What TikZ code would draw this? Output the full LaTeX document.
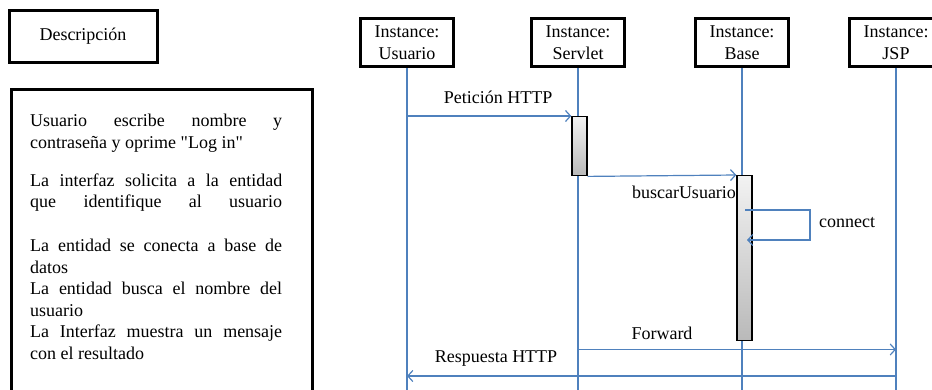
\documentclass[tikz,border=0pt]{standalone}
\usepackage{fontspec}
\setmainfont{Liberation Serif}[Ligatures=TeXOff]
\usetikzlibrary{arrows.meta}
\definecolor{lifeblue}{RGB}{79,129,189}

\begin{document}
\begin{tikzpicture}[x=1pt,y=-1pt]
  \tikzstyle{every node}=[font=\fontsize{18}{21.5}\selectfont, inner sep=0pt]
  \tikzstyle{thickbox}=[draw, line width=3pt, fill=white]
  \tikzstyle{instance}=[thickbox, minimum width=93pt, minimum height=48pt, align=center, anchor=north]
  \tikzstyle{life}=[draw=lifeblue, line width=1.2pt]
  \tikzstyle{msg}=[lifeblue, line width=1.2pt, -{Straight Barb[length=5pt,width=11pt]}]
  \tikzstyle{act}=[draw, line width=1.4pt, top color=gray!10, bottom color=gray!55, minimum width=15pt, anchor=north]
  \useasboundingbox (0,0) rectangle (932,389);

  % left column
  \node[thickbox, minimum width=148pt, minimum height=52pt] (Desc) at (83,36) {Descripción};
  \node[thickbox, minimum width=301pt, minimum height=320pt, anchor=north west] (DescBox) at (10,88) {};
  \node[anchor=north west] (DescText) at (30,114) {\parbox{252pt}{\tolerance=10000\hbadness=10000
    Usuario escribe nombre y\linebreak contraseña y oprime "Log in"\par
    \vspace{16.5pt}
    {\parfillskip=0pt La interfaz solicita a la entidad\linebreak que identifique al usuario\par}
    \vspace{22.5pt}
    La entidad se conecta a base de\linebreak datos\newline
    La entidad busca el nombre del\linebreak usuario\newline
    La Interfaz muestra un mensaje\linebreak con el resultado\par}};

  % instances and lifelines
  \node[instance] (Usuario) at (407,17) {Instance:\\Usuario};
  \node[instance] (Servlet) at (578,17) {Instance:\\Servlet};
  \node[instance] (Base) at (742,17) {Instance:\\Base};
  \node[instance] (JSP) at (896,17) {Instance:\\JSP};
  \foreach \n in {Usuario,Servlet,Base,JSP}
    \draw[life] (\n.south) -- (\n.south |- 0,392);

  % activations
  \node[act, minimum height=59pt] (ActServlet) at (579.5,116) {};
  \node[act, minimum height=165pt] (ActBase) at (744.5,175) {};

  % messages
  \draw[msg] (Usuario.south |- ActServlet.north) -- (ActServlet.north west);
  \node (LPeticion) at (498,97) {Petición HTTP};
  \draw[msg] (ActServlet.south east) -- (ActBase.north west);
  \node (LBuscar) at (684,192) {buscarUsuario};
  \coordinate (ConnOut) at (745,210);
  \coordinate (ConnIn) at (747,240);
  \draw[msg] (ConnOut) -- ++(65,0) |- (ConnIn);
  \node (LConnect) at (847,223) {connect};
  \draw[msg] (Servlet.south |- 0,349.5) -- (JSP.south |- 0,349.5);
  \node (LForward) at (662,333) {Forward};
  \draw[msg] (JSP.south |- 0,376) -- (Usuario.south |- 0,376);
  \node (LRespuesta) at (496,359) {Respuesta HTTP};
\end{tikzpicture}
\end{document}
